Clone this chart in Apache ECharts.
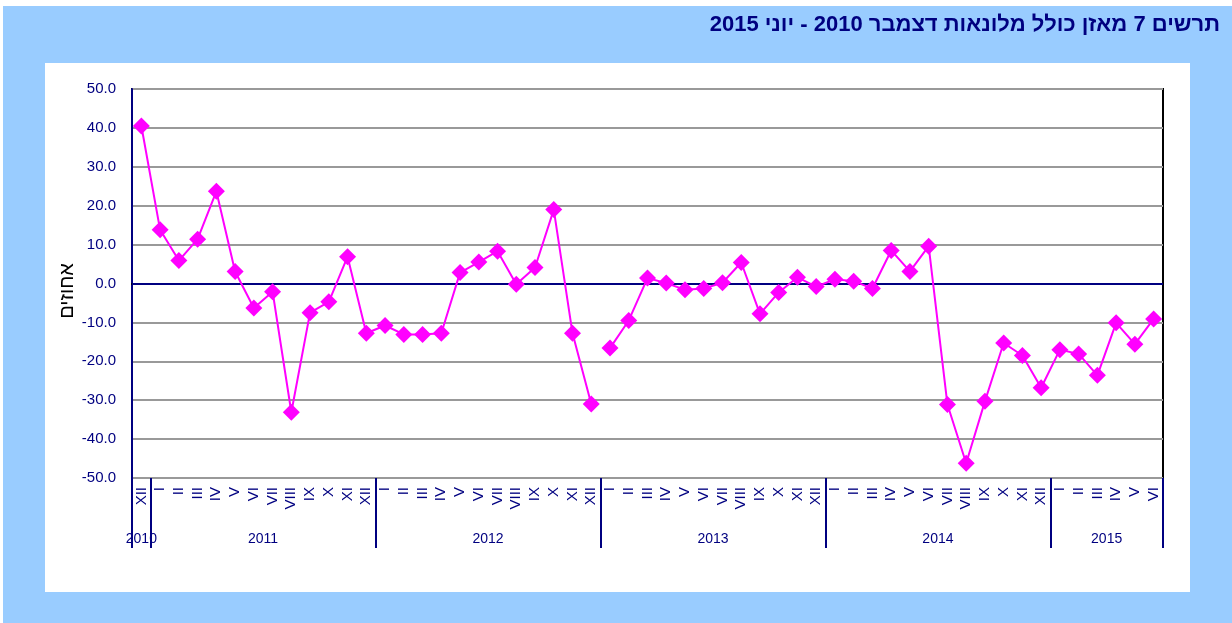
<!DOCTYPE html>
<html>
<head>
<meta charset="utf-8">
<title>מאזן כולל מלונאות</title>
<script src="https://cdn.jsdelivr.net/npm/echarts@6/dist/echarts.min.js"></script>
<style>
  html, body { margin: 0; padding: 0; background: #ffffff; }
  #chart { width: 1232px; height: 623px; }
</style>
</head>
<body>
<div id="chart"></div>
<script>
// חודשים בספרות רומיות
const romanMonths = ['I', 'II', 'III', 'IV', 'V', 'VI', 'VII', 'VIII', 'IX', 'X', 'XI', 'XII']

// שנים ומספר החודשים בכל שנה
const years = ['2010', '2011', '2012', '2013', '2014', '2015']
const firstMonth = [12, 1, 1, 1, 1, 1]
const monthsInYear = [1, 12, 12, 12, 12, 6]

// מאזן (אחוזים)
const v2010 = [40.5]
const v2011 = [13.8, 5.9, 11.4, 23.7, 3.1, -6.3, -2.1, -33.1, -7.5, -4.7, 6.9, -12.8]
const v2012 = [-10.8, -13.1, -13.1, -12.8, 2.8, 5.5, 8.3, -0.2, 4.1, 19.0, -12.8, -31.0]
const v2013 = [-16.6, -9.5, 1.4, 0.1, -1.6, -1.3, 0.2, 5.4, -7.8, -2.3, 1.6, -0.8]
const v2014 = [1.1, 0.6, -1.3, 8.5, 3.1, 9.6, -31.1, -46.2, -30.3, -15.3, -18.5, -26.8]
const v2015 = [-17.0, -18.1, -23.6, -10.1, -15.6, -9.1]

const yTicks = [-50, 50, 10]

// הסדרה נקטעת בין דצמבר 2012 לינואר 2013
const firstPart = [...v2010, ...v2011, ...v2012]
const secondPart = [...v2013, ...v2014, ...v2015]

const categories = []
const yearStart = {}
const yearLabelAt = {}
years.forEach((y, k) => {
  const start = categories.length
  yearStart[start] = true
  for (let m = 0; m < monthsInYear[k]; m++) {
    categories.push(romanMonths[firstMonth[k] - 1 + m])
  }
  // תווית השנה באמצע הקטע
  const mid = start + Math.floor(monthsInYear[k] / 2)
  yearLabelAt[mid] = { text: y, shift: monthsInYear[k] % 2 === 0 }
})

const seriesA = categories.map((c, i) => (i < firstPart.length ? firstPart[i] : null))
const seriesB = categories.map((c, i) => (i < firstPart.length ? null : secondPart[i - firstPart.length]))

const navy = '#000080'
const font = 'Liberation Sans, Arial, sans-serif'

const myChart = echarts.init(document.getElementById('chart'))

const lineStyleCommon = {
  type: 'line',
  symbol: 'diamond',
  symbolSize: 17,
  connectNulls: false,
  itemStyle: { color: '#ff00ff' },
  lineStyle: { color: '#ff00ff', width: 2 },
  emphasis: { disabled: true },
  z: 5
}

const option = {
  backgroundColor: '#ffffff',
  animation: false,
  textStyle: { fontFamily: font },
  graphic: [
    { type: 'rect', z: -10, shape: { x: 3, y: 6, width: 1229, height: 617 }, style: { fill: '#99ccff' } },
    { type: 'rect', z: -9, shape: { x: 45, y: 63, width: 1145, height: 529 }, style: { fill: '#ffffff' } }
  ],
  title: {
    text: 'תרשים 7 מאזן כולל מלונאות דצמבר 2010 - יוני 2015',
    right: 7,
    top: 9,
    textStyle: { color: navy, fontSize: 22, fontWeight: 'bold', fontFamily: font }
  },
  grid: {
    left: 132,
    right: 69,
    top: 89,
    bottom: 145,
    show: true,
    borderColor: '#000000',
    borderWidth: 2,
    backgroundColor: 'transparent'
  },
  xAxis: [
    {
      type: 'category',
      data: categories,
      position: 'bottom',
      boundaryGap: true,
      axisLine: { lineStyle: { color: '#000000', width: 2 } },
      axisTick: { show: false },
      axisLabel: {
        interval: 0,
        rotate: 90,
        margin: 9,
        color: navy,
        fontSize: 15,
        fontFamily: font
      },
      splitLine: { show: false }
    },
    {
      type: 'category',
      data: categories,
      position: 'bottom',
      boundaryGap: true,
      axisLine: { show: false },
      axisTick: {
        show: true,
        length: 70,
        interval: (i) => !!yearStart[i],
        lineStyle: { color: navy, width: 2 }
      },
      axisLabel: {
        interval: 0,
        margin: 54,
        color: navy,
        fontSize: 14,
        fontFamily: font,
        formatter: (val, i) => {
          const y = yearLabelAt[i]
          if (!y) return ''
          return y.shift ? '{s|' + y.text + '}' : y.text
        },
        rich: {
          s: { color: navy, fontSize: 14, fontFamily: font, padding: [0, 19, 0, 0] }
        }
      },
      splitLine: { show: false }
    }
  ],
  yAxis: {
    type: 'value',
    min: yTicks[0],
    max: yTicks[1],
    interval: yTicks[2],
    name: 'אחוזים',
    nameLocation: 'middle',
    nameGap: 55,
    nameMoveOverlap: false,
    nameTextStyle: { color: '#000000', fontSize: 20, fontFamily: font, padding: [0, 15, 0, 0] },
    axisLine: { show: true, lineStyle: { color: navy, width: 2 } },
    axisTick: { show: false },
    axisLabel: {
      margin: 16,
      color: navy,
      fontSize: 15,
      fontFamily: font,
      formatter: (v) => v.toFixed(1)
    },
    splitLine: { show: true, lineStyle: { color: '#999999', width: 2 } }
  },
  series: [
    Object.assign({
      name: 'A',
      data: seriesA,
      xAxisIndex: 0,
      markLine: {
        silent: true,
        symbol: 'none',
        label: { show: false },
        lineStyle: { color: navy, width: 2, type: 'solid' },
        data: [{ yAxis: 0 }],
        z: 3
      }
    }, lineStyleCommon),
    Object.assign({ name: 'B', data: seriesB, xAxisIndex: 0 }, lineStyleCommon)
  ]
}

myChart.setOption(option, true)
</script>
</body>
</html>
